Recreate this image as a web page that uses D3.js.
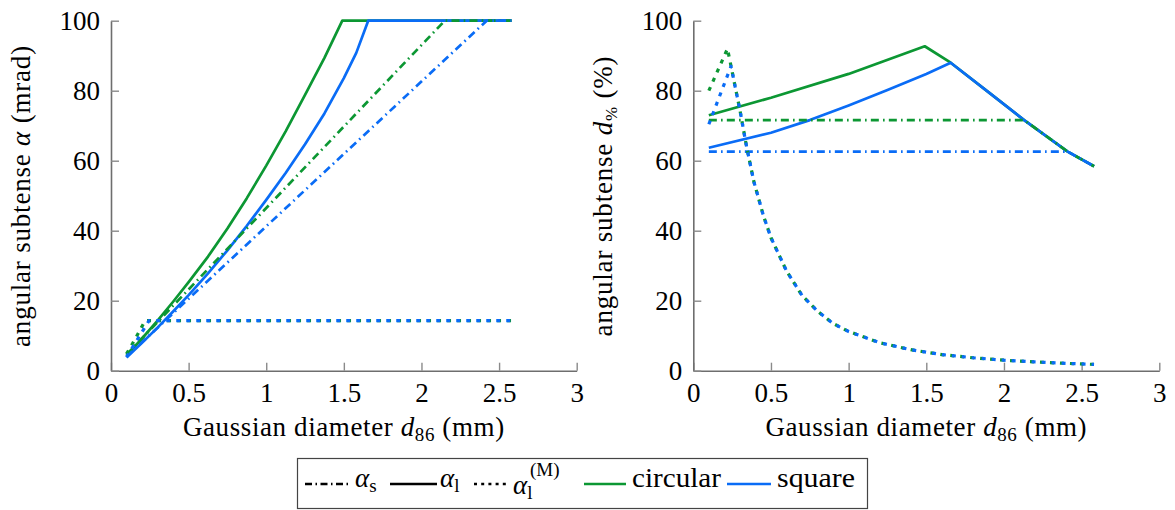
<!DOCTYPE html>
<html>
<head>
<meta charset="utf-8">
<script src="https://cdn.jsdelivr.net/npm/d3@7"></script>
<style>
  body { margin: 0; background: #fff; }
  svg text { font-family: "Liberation Serif", "DejaVu Serif", serif !important; fill: #000; }
</style>
</head>
<body>
<svg id="chart" width="1175" height="510"></svg>
<script>
// ---- axis ticks ----
const xTicks = [0, 0.5, 1, 1.5, 2, 2.5, 3];
const xTickLabels = ["0", "0.5", "1", "1.5", "2", "2.5", "3"];
const yTicks = [0, 20, 40, 60, 80, 100];
const yTickLabels = ["0", "20", "40", "60", "80", "100"];

// ---- left panel: angular subtense alpha (mrad) vs Gaussian diameter d86 (mm) ----
const alphaL_circular = [[0.1, 4.4], [0.2, 9.2], [0.3, 14.3], [0.4, 19.7], [0.5, 25.3], [0.625, 32.6], [0.75, 40.6], [0.875, 49.3], [1.0, 58.6], [1.125, 68.4], [1.25, 78.8], [1.375, 89.4], [1.49, 100], [2.58, 100]];
const alphaL_square   = [[0.1, 3.8], [0.2, 8.0], [0.3, 12.3], [0.4, 16.9], [0.5, 21.6], [0.625, 27.8], [0.75, 34.4], [0.875, 41.4], [1.0, 48.8], [1.125, 56.5], [1.25, 64.7], [1.375, 73.5], [1.5, 83.6], [1.58, 90.8], [1.657, 100], [2.58, 100]];
const alphaS_circular = [[0.1, 4.6], [2.15, 100], [2.58, 100]];
const alphaS_square   = [[0.1, 4.0], [2.42, 100], [2.58, 100]];
const alphaM_circular = [[0.1, 4.8], [0.155, 9], [0.22, 14.3], [2.58, 14.3]];
const alphaM_square   = [[0.1, 3.9], [0.245, 14.3], [2.58, 14.3]];

// ---- right panel: angular subtense d% (%) ----
const pctL_circular = [[0.1, 73], [0.5, 78], [1.0, 84.8], [1.49, 92.7], [1.657, 88.0], [1.9, 79.6], [2.13, 71.6], [2.41, 62.6], [2.58, 58.4]];
const pctL_square   = [[0.1, 63.7], [0.5, 68], [0.75, 71.6], [1.0, 75.8], [1.25, 80.2], [1.5, 84.8], [1.657, 88.0], [1.9, 79.6], [2.13, 71.6], [2.41, 62.6], [2.58, 58.4]];
const pctS_circular = [[0.1, 71.6], [2.13, 71.6], [2.41, 62.6], [2.58, 58.4]];
const pctS_square   = [[0.1, 62.6], [2.41, 62.6], [2.58, 58.4]];
const pctM_circular = [[0.1, 80], [0.22, 92], [0.243, 87], [0.27, 81], [0.3, 74.5], [0.343, 64], [0.39, 54], [0.45, 44.5], [0.5, 38], [0.6, 28.5], [0.7, 21.5], [0.8, 17], [0.9, 13.5], [1.0, 11.2], [1.2, 8], [1.4, 6], [1.6, 4.6], [1.8, 3.7], [2.0, 3.0], [2.2, 2.5], [2.4, 2.1], [2.58, 1.8]];
const pctM_square   = [[0.1, 70.4], [0.243, 87], [0.27, 81], [0.3, 74.5], [0.343, 64], [0.39, 54], [0.45, 44.5], [0.5, 38], [0.6, 28.5], [0.7, 21.5], [0.8, 17], [0.9, 13.5], [1.0, 11.2], [1.2, 8], [1.4, 6], [1.6, 4.6], [1.8, 3.7], [2.0, 3.0], [2.2, 2.5], [2.4, 2.1], [2.58, 1.8]];

// ---- styles ----
const GREEN = "#0c9733";
const BLUE = "#0a6cf6";
const LW = 2.7;
const DASHDOT = "8,4.2,1.6,4.2";
const DOTTED = "4,6";
const FS = 27;
const FONT = "Liberation Serif";

const svg = d3.select("#chart");

const yRange = [370.7, 20.7];

function panel(x0, x1, series, yTitleParts, yTitleX) {
  const x = d3.scaleLinear().domain([0, 3]).range([x0, x1]);
  const y = d3.scaleLinear().domain([0, 100]).range(yRange);
  const g = svg.append("g");

  // axes: left and bottom only, ticks pointing inward
  const xa = d3.axisBottom(x).tickValues(xTicks).tickFormat((d, i) => xTickLabels[i])
    .tickSizeInner(-8).tickSizeOuter(0).tickPadding(12);
  const ya = d3.axisLeft(y).tickValues(yTicks).tickFormat((d, i) => yTickLabels[i])
    .tickSizeInner(-8).tickSizeOuter(0).tickPadding(11);

  const gx = g.append("g").attr("transform", `translate(0,${yRange[0]})`).call(xa);
  const gy = g.append("g").attr("transform", `translate(${x0},0)`).call(ya);
  [gx, gy].forEach(a => {
    a.attr("font-family", FONT).attr("font-size", FS);
    a.selectAll("path.domain").attr("stroke", "#6e6e6e").attr("stroke-width", 1.6);
    a.selectAll(".tick line").attr("stroke", "#8a8a8a").attr("stroke-width", 1.4);
    a.selectAll(".tick text").attr("font-size", FS);
  });

  const line = d3.line().x(d => x(d[0])).y(d => y(d[1]));
  series.forEach(s => {
    g.append("path")
      .datum(s.data)
      .attr("d", line)
      .attr("fill", "none")
      .attr("stroke", s.color)
      .attr("stroke-width", s.dash === DOTTED ? 3.2 : LW)
      .attr("stroke-linejoin", "round")
      .attr("stroke-dasharray", s.dash || null);
  });

  // x-axis title
  const xt = g.append("text")
    .attr("x", (x0 + x1) / 2).attr("y", 436)
    .attr("text-anchor", "middle").attr("font-size", FS)
    .attr("letter-spacing", 0.6);
  xt.append("tspan").text("Gaussian diameter ");
  xt.append("tspan").attr("font-style", "italic").text("d");
  xt.append("tspan").attr("font-size", 19).attr("dy", 5).text("86");
  xt.append("tspan").attr("dy", -5).text(" (mm)");

  // y-axis title
  const yt = g.append("text")
    .attr("transform", `translate(${yTitleX},196) rotate(-90)`)
    .attr("text-anchor", "middle").attr("font-size", FS)
    .attr("letter-spacing", 0.8);
  yTitleParts.forEach(p => {
    const t = yt.append("tspan").text(p.t);
    if (p.italic) t.attr("font-style", "italic");
    if (p.sub) t.attr("font-size", 17).attr("dy", 5);
    if (p.after) t.attr("dy", -5);
  });
}

panel(111, 576.7, [
  { data: alphaL_circular, color: GREEN },
  { data: alphaL_square, color: BLUE },
  { data: alphaS_circular, color: GREEN, dash: DASHDOT },
  { data: alphaS_square, color: BLUE, dash: DASHDOT },
  { data: alphaM_circular, color: GREEN, dash: DOTTED },
  { data: alphaM_square, color: BLUE, dash: DOTTED }
], [
  { t: "angular subtense " }, { t: "α", italic: true }, { t: " (mrad)" }
], 30);

panel(693.3, 1159.3, [
  { data: pctL_circular, color: GREEN },
  { data: pctL_square, color: BLUE },
  { data: pctS_circular, color: GREEN, dash: DASHDOT },
  { data: pctS_square, color: BLUE, dash: DASHDOT },
  { data: pctM_circular, color: GREEN, dash: DOTTED },
  { data: pctM_square, color: BLUE, dash: DOTTED }
], [
  { t: "angular subtense " }, { t: "d", italic: true }, { t: "%", sub: true }, { t: " (%)", after: true }
], 612);

// ---- legend ----
const leg = svg.append("g");
leg.append("rect")
  .attr("x", 297.5).attr("y", 458.5).attr("width", 570).attr("height", 50)
  .attr("fill", "#fff").attr("stroke", "#444").attr("stroke-width", 1.2);

const legendSamples = [
  { x0: 305, x1: 349, color: "#000", dash: "7,3.5,1.5,3.5" },
  { x0: 390, x1: 437, color: "#000", dash: null },
  { x0: 474, x1: 509, color: "#000", dash: "3,4.2" },
  { x0: 584, x1: 626, color: GREEN, dash: null },
  { x0: 727, x1: 771, color: BLUE, dash: null }
];
legendSamples.forEach(s => {
  leg.append("line")
    .attr("x1", s.x0).attr("x2", s.x1).attr("y1", 484).attr("y2", 484)
    .attr("stroke", s.color).attr("stroke-width", LW)
    .attr("stroke-dasharray", s.dash);
});

const LB = 487;
function alphaLabel(xp, base, sub) {
  const t = leg.append("text").attr("x", xp).attr("y", base).attr("font-size", FS);
  t.append("tspan").attr("font-style", "italic").text("α");
  t.append("tspan").attr("font-size", 19).attr("dy", 5).text(sub);
  return t;
}
alphaLabel(355, LB, "s");
alphaLabel(440, LB, "l");
alphaLabel(513, LB + 7, "l");
leg.append("text").attr("x", 530).attr("y", 476).attr("font-size", 19).text("(M)");
leg.append("text").attr("x", 632).attr("y", LB).attr("font-size", FS)
  .attr("textLength", 89).attr("lengthAdjust", "spacingAndGlyphs").text("circular");
leg.append("text").attr("x", 777).attr("y", LB).attr("font-size", FS)
  .attr("textLength", 78).attr("lengthAdjust", "spacingAndGlyphs").text("square");
</script>
</body>
</html>
